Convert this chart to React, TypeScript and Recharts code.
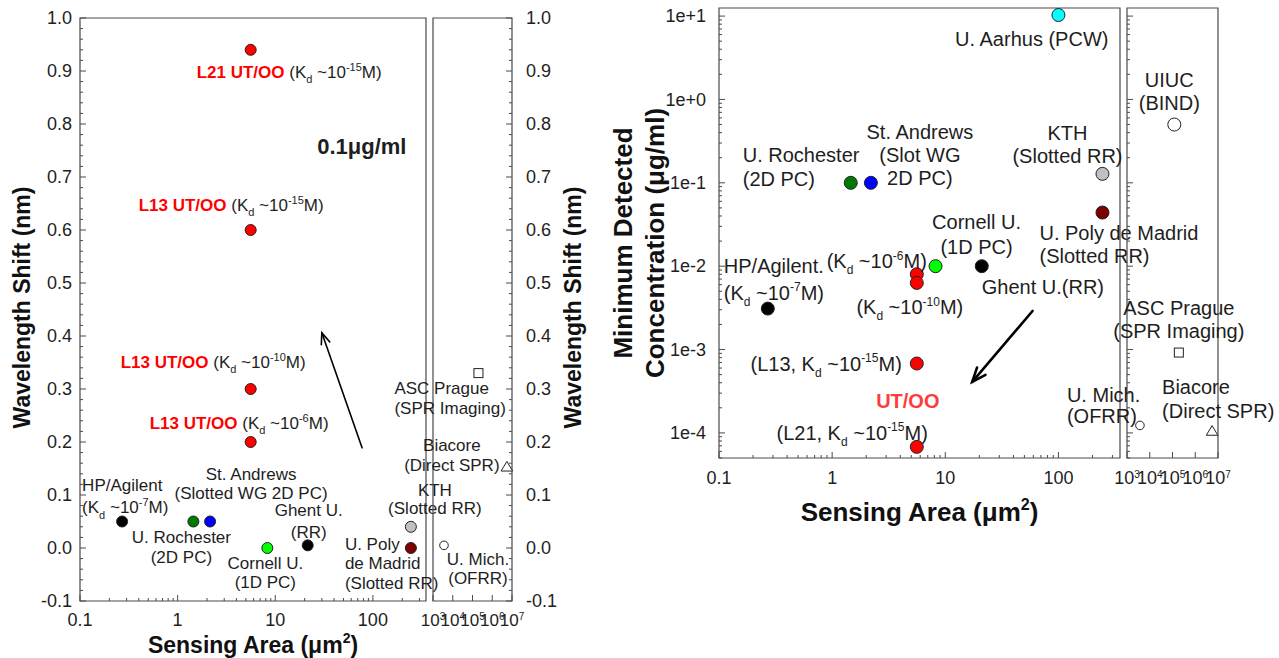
import React from 'react';
import { ScatterChart, Scatter, XAxis, YAxis, ReferenceArea } from 'recharts';

const W = 1279;
const H = 658;
const FONT = '"Liberation Sans", Arial, Helvetica, sans-serif';
const INK = '#1e1e1e';
const FRAME = '#4a4a4a';
const RED = '#ff0000';

// ---------- data: left panel, wavelength shift (nm) vs sensing area (um^2)
const shiftMain = [
  { id: 'l21', area: 5.6, shift: 0.94 },
  { id: 'l13a', area: 5.6, shift: 0.6 },
  { id: 'l13b', area: 5.6, shift: 0.3 },
  { id: 'l13c', area: 5.6, shift: 0.2 },
  { id: 'hp', area: 0.27, shift: 0.05 },
  { id: 'roch', area: 1.45, shift: 0.05 },
  { id: 'andrews', area: 2.15, shift: 0.05 },
  { id: 'cornell', area: 8.3, shift: 0.0 },
  { id: 'ghent', area: 21.5, shift: 0.005 },
  { id: 'kth', area: 245, shift: 0.04 },
  { id: 'madrid', area: 245, shift: 0.0 },
];
const shiftFar = [
  { id: 'umich', area: 3600, shift: 0.005 },
  { id: 'asc', area: 2e5, shift: 0.33 },
  { id: 'biacore', area: 5.5e6, shift: 0.153 },
];
const shiftCaption = [{ id: 'caption', area: 77, shift: 0.757 }];
const shiftArrow = [
  { area: 77.5, shift: 0.189 },
  { area: 30, shift: 0.406 },
];

// ---------- data: right panel, minimum detected concentration (ug/ml)
const concMain = [
  { id: 'aarhus', area: 100, conc: 10.3 },
  { id: 'roch', area: 1.46, conc: 0.1 },
  { id: 'andrews', area: 2.2, conc: 0.1 },
  { id: 'cornell', area: 8.2, conc: 0.01 },
  { id: 'ghent', area: 21, conc: 0.01 },
  { id: 'l13c', area: 5.6, conc: 0.008 },
  { id: 'l13b', area: 5.6, conc: 0.0063 },
  { id: 'hp', area: 0.27, conc: 0.0031 },
  { id: 'l13a', area: 5.6, conc: 6.8e-4 },
  { id: 'l21', area: 5.6, conc: 6.8e-5 },
  { id: 'kth', area: 245, conc: 0.128 },
  { id: 'madrid', area: 245, conc: 0.044 },
];
const concFar = [
  { id: 'uiuc', area: 1.2e5, conc: 0.5 },
  { id: 'asc', area: 1.9e5, conc: 9.2e-4 },
  { id: 'umich', area: 3700, conc: 1.23e-4 },
  { id: 'biacore', area: 5.5e6, conc: 1.05e-4 },
];
const concArrow = [
  { area: 59, conc: 2.9e-3 },
  { area: 17.3, conc: 4.1e-4 },
];

// ---------- axes
const areaDomain = [0.1, 350];
const farDomain = [1e3, 1e7];
const shiftDomain = [-0.1, 1.0];
const concDomain = [5e-5, 12.5];
const farTicks = [1e3, 1e4, 1e5, 1e6, 1e7];
const shiftTicks = Array.from({ length: 56 }, (_, i) => Math.round((-0.1 + i * 0.02) * 100) / 100);

const logTicks = (lo: number, hi: number) => {
  const out: number[] = [];
  for (let e = Math.floor(Math.log10(lo)); e <= Math.ceil(Math.log10(hi)); e++) {
    for (let m = 1; m < 10; m++) {
      const v = Number((m * Math.pow(10, e)).toPrecision(3));
      if (v >= lo * 0.999 && v <= hi * 1.001) out.push(v);
    }
  }
  return out;
};
const areaTicks = logTicks(0.1, 350);
const concTicks = logTicks(5e-5, 12.5);

const isDecade = (v: number) => Math.abs(Math.log10(v) - Math.round(Math.log10(v))) < 1e-6;
const isTenth = (v: number) => Math.abs(v * 10 - Math.round(v * 10)) < 1e-6;

// ---------- marker styles
const markers: Record<string, { kind: string; fill?: string; size?: number }> = {
  l21: { kind: 'dot', fill: RED },
  l13a: { kind: 'dot', fill: RED },
  l13b: { kind: 'dot', fill: RED },
  l13c: { kind: 'dot', fill: RED },
  hp: { kind: 'dot', fill: '#000000' },
  roch: { kind: 'dot', fill: '#007a00' },
  andrews: { kind: 'dot', fill: '#0000ff' },
  cornell: { kind: 'dot', fill: '#00ff00' },
  ghent: { kind: 'dot', fill: '#000000' },
  kth: { kind: 'dot', fill: '#c0c0c0' },
  madrid: { kind: 'dot', fill: '#7f0000' },
  aarhus: { kind: 'dot', fill: '#00ffff' },
  umich: { kind: 'ring', size: 4.3 },
  uiuc: { kind: 'ring', size: 6.5 },
  asc: { kind: 'square', size: 4.5 },
  biacore: { kind: 'triangle', size: 5.5 },
  caption: { kind: 'none' },
};

// ---------- annotation text
type Seg = { t: string; kind?: 'sub' | 'sup'; bold?: boolean; color?: string };
type Note = { segs: Seg[]; dx: number; dy: number; anchor: 'start' | 'middle' | 'end'; size?: number };

const kd = (exp: string, lead = '('): Seg[] => [
  { t: lead + 'K' },
  { t: 'd', kind: 'sub' },
  { t: ' ~10' },
  { t: exp, kind: 'sup' },
  { t: 'M)' },
];
const block = (lines: (string | Seg[])[], dx: number, dys: number[], anchor: Note['anchor']): Note[] =>
  lines.map((l, i) => ({ segs: typeof l === 'string' ? [{ t: l }] : l, dx, dy: dys[i], anchor }));

const shiftNotes: Record<string, Note[]> = {
  l21: block([[{ t: 'L21 UT/OO', bold: true, color: RED }, ...kd('-15', ' (')]], -54, [22], 'start'),
  l13a: block([[{ t: 'L13 UT/OO', bold: true, color: RED }, ...kd('-15', ' (')]], -112, [-25], 'start'),
  l13b: block([[{ t: 'L13 UT/OO', bold: true, color: RED }, ...kd('-10', ' (')]], -130, [-27], 'start'),
  l13c: block([[{ t: 'L13 UT/OO', bold: true, color: RED }, ...kd('-6', ' (')]], -101, [-19], 'start'),
  hp: block(['HP/Agilent', kd('-7')], -40, [-36, -14], 'start'),
  roch: block(['U. Rochester', '(2D PC)'], -12, [16, 36], 'middle'),
  andrews: block(['St. Andrews', '(Slotted WG 2D PC)'], 41, [-47, -28], 'middle'),
  cornell: block(['Cornell U.', '(1D PC)'], -2, [15, 34], 'middle'),
  ghent: block(['Ghent U.', '(RR)'], 1, [-35, -13], 'middle'),
  kth: block(['KTH', '(Slotted RR)'], 24, [-37, -19], 'middle'),
  madrid: block(['U. Poly', 'de Madrid', '(Slotted RR)'], -66, [-4, 15, 35], 'start'),
  umich: block(['U. Mich.', '(OFRR)'], 34, [14, 33], 'middle'),
  asc: block(['ASC Prague', '(SPR Imaging)'], -84, [15, 35], 'start'),
  biacore: block(['Biacore', '(Direct SPR)'], -55, [-22, -2], 'middle'),
  caption: [{ segs: [{ t: '0.1μg/ml', bold: true }], dx: 0, dy: 0, anchor: 'middle', size: 22 }],
};

const concNotes: Record<string, Note[]> = {
  aarhus: block(['U. Aarhus (PCW)'], 50, [24], 'end'),
  roch: block(['U. Rochester', '(2D PC)'], -108, [-28, -4], 'start'),
  andrews: block(['St. Andrews', '(Slot WG', '2D PC)'], 49, [-51, -28, -5], 'middle'),
  cornell: block(['Cornell U.', '(1D PC)'], 41, [-44, -19], 'middle'),
  ghent: block(['Ghent U.(RR)'], 0, [21], 'start'),
  l13c: block([kd('-6')], 10, [-13], 'end'),
  l13b: block([kd('-10')], -7, [24], 'middle'),
  hp: block(['HP/Agilent.', kd('-7')], -44, [-43, -16], 'start'),
  l13a: block([kd('-15', '(L13, ')], -15, [0], 'end'),
  l21: [
    ...block([kd('-15', '(L21, ')], 11, [-14], 'end'),
    ...block([[{ t: 'UT/OO', bold: true, color: '#ff3c3c' }]], -9, [-46], 'middle'),
  ],
  kth: block(['KTH', '(Slotted RR)'], -35, [-41, -18], 'middle'),
  madrid: block(['U. Poly de Madrid', '(Slotted RR)'], -63, [20, 43], 'start'),
  uiuc: block(['UIUC', '(BIND)'], -5, [-45, -22], 'middle'),
  asc: block(['ASC Prague', '(SPR Imaging)'], 0, [-45, -22], 'middle'),
  umich: block(['U. Mich.', '(OFRR)'], -73, [-30, -9], 'start'),
  biacore: block(['Biacore', '(Direct SPR)'], -50, [-44, -20], 'start'),
};

// ---------- drawing helpers
const Rich = ({ x, y, note, fs }: { x: number; y: number; note: Note; fs: number }) => {
  let shift = 0;
  const spans = note.segs.map((g, i) => {
    const target = g.kind === 'sup' ? -0.42 * fs : g.kind === 'sub' ? 0.3 * fs : 0;
    const dy = target - shift;
    shift = target;
    return (
      <tspan
        key={i}
        dy={dy || undefined}
        fontSize={g.kind ? Math.round(fs * 0.62) : undefined}
        fontWeight={g.bold ? 'bold' : undefined}
        fill={g.color}
      >
        {g.t}
      </tspan>
    );
  });
  return (
    <text
      x={x}
      y={y + fs * 0.35}
      textAnchor={note.anchor}
      fontSize={fs}
      fill={INK}
      fontFamily={FONT}
      style={{ whiteSpace: 'pre' }}
    >
      {spans}
    </text>
  );
};

const drawMarker = (id: string, cx: number, cy: number, r: number) => {
  const m = markers[id];
  if (!m || m.kind === 'none') return null;
  if (m.kind === 'dot') return <circle cx={cx} cy={cy} r={r} fill={m.fill} stroke="#222" strokeWidth={1} />;
  if (m.kind === 'ring') return <circle cx={cx} cy={cy} r={m.size} fill="#fff" stroke="#222" strokeWidth={1} />;
  const s = m.size || 5;
  if (m.kind === 'square')
    return <rect x={cx - s} y={cy - s} width={2 * s} height={2 * s} fill="#fff" stroke="#222" strokeWidth={1} />;
  return (
    <polygon
      points={`${cx},${cy - s} ${cx - s * 1.05},${cy + s * 0.75} ${cx + s * 1.05},${cy + s * 0.75}`}
      fill="#fff"
      stroke="#222"
      strokeWidth={1}
    />
  );
};

const mark = (notes: Record<string, Note[]>, r: number, fs: number) => (p: any) => {
  const { cx, cy, payload } = p;
  if (cx == null || cy == null) return <g />;
  return (
    <g>
      {drawMarker(payload.id, cx, cy, r)}
      {(notes[payload.id] || []).map((n, i) => (
        <Rich key={i} x={cx + n.dx} y={cy + n.dy} note={n} fs={n.size ?? fs} />
      ))}
    </g>
  );
};

const blank = () => <g />;

const arrow = (w: number, head: number) => (lp: any) => {
  const pts = lp.points || [];
  if (pts.length < 2) return <g />;
  const [a, b] = pts;
  const ang = Math.atan2(b.y - a.y, b.x - a.x);
  const p1 = { x: b.x - head * Math.cos(ang - 0.38), y: b.y - head * Math.sin(ang - 0.38) };
  const p2 = { x: b.x - head * Math.cos(ang + 0.38), y: b.y - head * Math.sin(ang + 0.38) };
  return (
    <g stroke="#000" strokeWidth={w} fill="none" strokeLinecap="round">
      <line x1={a.x} y1={a.y} x2={b.x} y2={b.y} />
      <polyline points={`${p1.x},${p1.y} ${b.x},${b.y} ${p2.x},${p2.y}`} />
    </g>
  );
};

type TickOpts = {
  side: 'bottom' | 'left' | 'right';
  major: (v: number) => boolean;
  label?: (v: number) => React.ReactNode;
  gap: number;
  fs: number;
};
const makeTick = (o: TickOpts) => (p: any) => {
  const { x, y } = p;
  const v = p.payload.value;
  const big = o.major(v);
  const len = big ? 6 : 3;
  const txt = big && o.label ? o.label(v) : null;
  const tp = { fontSize: o.fs, fill: INK, fontFamily: FONT };
  if (o.side === 'bottom') {
    return (
      <g>
        <line x1={x} y1={y} x2={x} y2={y - len} stroke={FRAME} />
        {txt !== null && (
          <text x={x} y={y + o.gap} textAnchor="middle" {...tp}>
            {txt}
          </text>
        )}
      </g>
    );
  }
  if (o.side === 'left') {
    return (
      <g>
        <line x1={x} y1={y} x2={x + len} y2={y} stroke={FRAME} />
        {txt !== null && (
          <text x={x - o.gap} y={y + o.fs * 0.35} textAnchor="end" {...tp}>
            {txt}
          </text>
        )}
      </g>
    );
  }
  return (
    <g>
      <line x1={x} y1={y} x2={x - len} y2={y} stroke={FRAME} />
      {txt !== null && (
        <text x={x + o.gap} y={y + o.fs * 0.35} textAnchor="start" {...tp}>
          {txt}
        </text>
      )}
    </g>
  );
};

const fmtShift = (v: number) => (Math.round(v * 10) / 10).toFixed(1);
const fmtArea = (v: number) => String(v);
const fmtConc = (v: number) => {
  const e = Math.round(Math.log10(v));
  return `1e${e >= 0 ? '+' : '-'}${Math.abs(e)}`;
};
// the break-axis decades are packed tight, like in the original figure
const fmtFar = (v: number) => (
  <>
    10
    <tspan dy={-6} fontSize={10}>
      {Math.round(Math.log10(v))}
    </tspan>
  </>
);

const XTitle = ({ viewBox, size, dy }: any) => {
  const { x = 0, y = 0, width = 0 } = viewBox || {};
  return (
    <text
      x={x + width / 2}
      y={y + dy + size * 0.35}
      textAnchor="middle"
      fontSize={size}
      fontWeight="bold"
      fill="#111"
      fontFamily={FONT}
    >
      Sensing Area (μm
      <tspan dy={-size * 0.42} fontSize={Math.round(size * 0.6)}>
        2
      </tspan>
      <tspan dy={size * 0.42}>)</tspan>
    </text>
  );
};

const YTitle = ({ viewBox, size, lines, offsets, shiftY = 0 }: any) => {
  const { x = 0, y = 0, height = 0 } = viewBox || {};
  const cy = y + height / 2 + shiftY;
  return (
    <g>
      {lines.map((t: string, i: number) => {
        const cx = x + offsets[i];
        return (
          <text
            key={i}
            x={cx}
            y={cy + size * 0.35}
            transform={`rotate(-90, ${cx}, ${cy})`}
            textAnchor="middle"
            fontSize={size}
            fontWeight="bold"
            fill="#111"
            fontFamily={FONT}
          >
            {t}
          </text>
        );
      })}
    </g>
  );
};

const axisBase = {
  type: 'number' as const,
  interval: 0 as const,
  tickSize: 0,
  tickMargin: 0,
  axisLine: false,
  tickLine: false,
  allowDecimals: true,
};

function ShiftMain() {
  return (
    <ScatterChart width={W} height={H} margin={{ top: 18, right: W - 426, bottom: 0, left: 0 }}>
      <XAxis
        {...axisBase}
        dataKey="area"
        scale="log"
        domain={areaDomain}
        ticks={areaTicks}
        height={57}
        tick={makeTick({ side: 'bottom', major: isDecade, label: fmtArea, gap: 25, fs: 18 })}
        label={<XTitle size={23} dy={44} />}
      />
      <YAxis
        {...axisBase}
        dataKey="shift"
        domain={shiftDomain}
        ticks={shiftTicks}
        width={80}
        tick={makeTick({ side: 'left', major: isTenth, label: fmtShift, gap: 8, fs: 18 })}
        label={<YTitle size={23} lines={['Wavelength Shift (nm)']} offsets={[22]} shiftY={-2} />}
      />
      <ReferenceArea x1={0.1} x2={350} y1={-0.1} y2={1} fill="none" stroke={FRAME} strokeWidth={1.2} />
      <Scatter data={shiftMain} shape={mark(shiftNotes, 5.5, 17)} isAnimationActive={false} />
      <Scatter data={shiftCaption} shape={mark(shiftNotes, 5.5, 17)} isAnimationActive={false} />
      <Scatter data={shiftArrow} shape={blank} line={arrow(1.6, 12)} isAnimationActive={false} />
    </ScatterChart>
  );
}

function ShiftFar() {
  return (
    <ScatterChart width={W} height={H} margin={{ top: 18, right: W - 512 - 88, bottom: 0, left: 433 }}>
      <XAxis
        {...axisBase}
        dataKey="area"
        scale="log"
        domain={farDomain}
        ticks={farTicks}
        height={57}
        tick={makeTick({ side: 'bottom', major: isDecade, label: fmtFar, gap: 25, fs: 17 })}
      />
      <YAxis
        {...axisBase}
        dataKey="shift"
        orientation="right"
        domain={shiftDomain}
        ticks={shiftTicks}
        width={88}
        tick={makeTick({ side: 'right', major: isTenth, label: fmtShift, gap: 14, fs: 18 })}
        label={<YTitle size={23} lines={['Wavelength Shift (nm)']} offsets={[61]} shiftY={-2} />}
      />
      <ReferenceArea x1={1e3} x2={1e7} y1={-0.1} y2={1} fill="none" stroke={FRAME} strokeWidth={1.2} />
      <Scatter data={shiftFar} shape={mark(shiftNotes, 5.5, 17)} isAnimationActive={false} />
    </ScatterChart>
  );
}

function ConcMain() {
  return (
    <ScatterChart width={W} height={H} margin={{ top: 8, right: W - 1120, bottom: 120, left: 589 }}>
      <XAxis
        {...axisBase}
        dataKey="area"
        scale="log"
        domain={areaDomain}
        ticks={areaTicks}
        height={80}
        tick={makeTick({ side: 'bottom', major: isDecade, label: fmtArea, gap: 26, fs: 18 })}
        label={<XTitle size={26} dy={54} />}
      />
      <YAxis
        {...axisBase}
        dataKey="conc"
        scale="log"
        domain={concDomain}
        ticks={concTicks}
        width={130}
        tick={makeTick({ side: 'left', major: isDecade, label: fmtConc, gap: 13, fs: 18 })}
        label={
          <YTitle
            size={26}
            lines={['Minimum Detected', 'Concentration (μg/ml)']}
            offsets={[34, 66]}
            shiftY={10}
          />
        }
      />
      <ReferenceArea x1={0.1} x2={350} y1={5e-5} y2={12.5} fill="none" stroke={FRAME} strokeWidth={1.2} />
      <Scatter data={concMain} shape={mark(concNotes, 6.5, 20)} isAnimationActive={false} />
      <Scatter data={concArrow} shape={blank} line={arrow(2.6, 15)} isAnimationActive={false} />
    </ScatterChart>
  );
}

function ConcFar() {
  return (
    <ScatterChart width={W} height={H} margin={{ top: 8, right: W - 1218, bottom: 120, left: 1126 }}>
      <XAxis
        {...axisBase}
        dataKey="area"
        scale="log"
        domain={farDomain}
        ticks={farTicks}
        height={80}
        tick={makeTick({ side: 'bottom', major: isDecade, label: fmtFar, gap: 26, fs: 18 })}
      />
      <YAxis
        {...axisBase}
        dataKey="conc"
        scale="log"
        domain={concDomain}
        ticks={concTicks}
        width={1}
        tick={makeTick({ side: 'left', major: isDecade, gap: 13, fs: 18 })}
      />
      <ReferenceArea x1={1e3} x2={1e7} y1={5e-5} y2={12.5} fill="none" stroke={FRAME} strokeWidth={1.2} />
      <Scatter data={concFar} shape={mark(concNotes, 6.5, 20)} isAnimationActive={false} />
    </ScatterChart>
  );
}

export default function App() {
  const layer: React.CSSProperties = { position: 'absolute', left: 0, top: 0 };
  return (
    <div style={{ position: 'absolute', left: 0, top: 0, width: W, height: H, background: '#fff', fontFamily: FONT }}>
      <div style={layer}>
        <ShiftMain />
      </div>
      <div style={layer}>
        <ShiftFar />
      </div>
      <div style={layer}>
        <ConcMain />
      </div>
      <div style={layer}>
        <ConcFar />
      </div>
    </div>
  );
}
